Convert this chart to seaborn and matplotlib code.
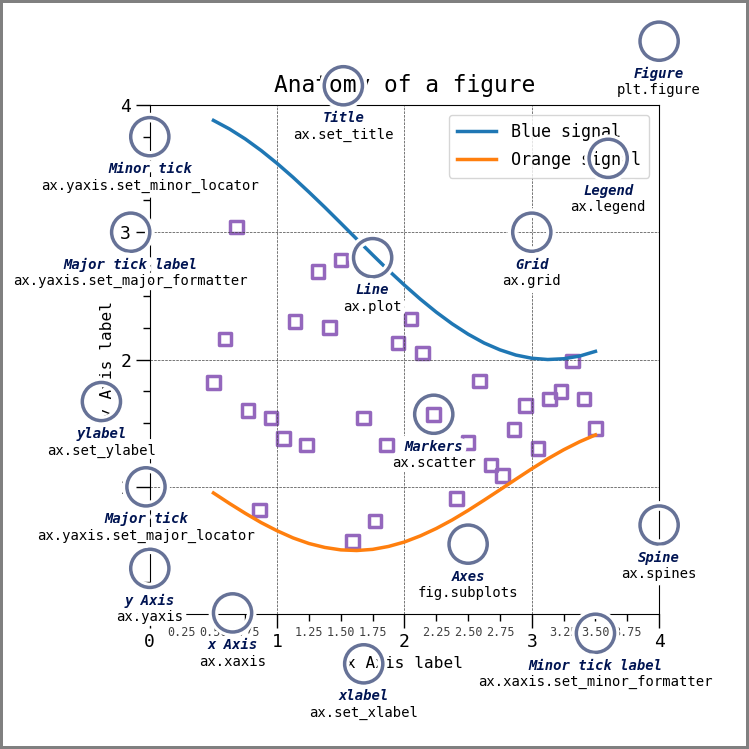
import matplotlib
matplotlib.use("Agg")
import matplotlib.pyplot as plt
import seaborn as sns
from matplotlib.ticker import AutoMinorLocator, MultipleLocator
from matplotlib.patches import Circle
from matplotlib.patheffects import withStroke

# ---- data ----
line_x = [0.5, 0.625, 0.75, 0.875, 1.0, 1.125, 1.25, 1.375, 1.5, 1.625, 1.75, 1.875, 2.0,
          2.125, 2.25, 2.375, 2.5, 2.625, 2.75, 2.875, 3.0, 3.125, 3.25, 3.375, 3.5]
blue_y = [3.878, 3.811, 3.732, 3.641, 3.540, 3.431, 3.315, 3.195, 3.071, 2.946, 2.822,
          2.700, 2.584, 2.474, 2.372, 2.280, 2.199, 2.130, 2.076, 2.035, 2.010, 2.000,
          2.006, 2.027, 2.064]
orange_y = [0.952, 0.870, 0.792, 0.719, 0.655, 0.599, 0.555, 0.524, 0.505, 0.500, 0.509,
            0.532, 0.567, 0.615, 0.673, 0.740, 0.815, 0.895, 0.977, 1.060, 1.142, 1.220,
            1.291, 1.354, 1.408]

marker_x = [0.50, 0.59, 0.68, 0.77, 0.86, 0.95, 1.05, 1.14, 1.23, 1.32, 1.41, 1.50,
            1.59, 1.68, 1.77, 1.86, 1.95, 2.05, 2.14, 2.23, 2.32, 2.41, 2.50, 2.59,
            2.68, 2.77, 2.86, 2.95, 3.05, 3.14, 3.23, 3.32, 3.41, 3.50]
marker_y = [1.82, 2.16, 3.04, 1.60, 0.82, 1.54, 1.38, 2.30, 1.33, 2.69, 2.25, 2.78,
            0.57, 1.54, 0.73, 1.33, 2.13, 2.32, 2.05, 1.57, 1.25, 0.91, 1.35, 1.83,
            1.17, 1.09, 1.45, 1.64, 1.30, 1.69, 1.75, 1.99, 1.69, 1.46]

series_labels = ["Blue signal", "Orange signal"]

# (label, code) for each annotated element
notes = [
    ("Minor tick label", "ax.xaxis.set_minor_formatter"),
    ("Major tick", "ax.yaxis.set_major_locator"),
    ("Minor tick", "ax.yaxis.set_minor_locator"),
    ("Major tick label", "ax.yaxis.set_major_formatter"),
    ("xlabel", "ax.set_xlabel"),
    ("ylabel", "ax.set_ylabel"),
    ("Title", "ax.set_title"),
    ("Line", "ax.plot"),
    ("Markers", "ax.scatter"),
    ("Grid", "ax.grid"),
    ("Legend", "ax.legend"),
    ("Axes", "fig.subplots"),
    ("Figure", "plt.figure"),
    ("x Axis", "ax.xaxis"),
    ("y Axis", "ax.yaxis"),
    ("Spine", "ax.spines"),
]
note_pos = [(3.50, -0.15), (-0.03, 1.00), (0.00, 3.75), (-0.15, 3.00), (1.68, -0.39),
            (-0.38, 1.67), (1.52, 4.15), (1.75, 2.80), (2.23, 1.57), (3.00, 3.00),
            (3.60, 3.58), (2.50, 0.55), (4.00, 4.50), (0.65, 0.01), (0.00, 0.36),
            (4.00, 0.70)]

# reference uses a narrow monospace face everywhere; DejaVu Sans Mono at ~0.83x size matches widths
plt.rcParams["font.family"] = ["DejaVu Sans Mono", "DejaVu Sans"]

royal_blue = [0, 20 / 256, 82 / 256]

fig = plt.figure(figsize=(7.49, 7.49), dpi=100)
ax = fig.add_axes([0.2, 0.17, 0.68, 0.7], aspect=1)

ax.xaxis.set_major_locator(MultipleLocator(1.0))
ax.xaxis.set_minor_locator(AutoMinorLocator(4))
ax.yaxis.set_major_locator(MultipleLocator(1.0))
ax.yaxis.set_minor_locator(AutoMinorLocator(4))
ax.xaxis.set_minor_formatter("{x:.2f}")

ax.set_xlim(0, 4)
ax.set_ylim(0, 4)

ax.tick_params(which="major", width=1.0, length=10, labelsize=13)
ax.tick_params(which="minor", width=1.0, length=5, labelsize=8.5, labelcolor="0.25")

ax.grid(linestyle="--", linewidth=0.5, color=".25", zorder=-10)

sns.lineplot(x=line_x, y=blue_y, color="C0", lw=2.5, label=series_labels[0], zorder=10, ax=ax)
sns.lineplot(x=line_x, y=orange_y, color="C1", lw=2.5, label=series_labels[1], ax=ax)
sns.scatterplot(x=marker_x, y=marker_y, marker="s", s=81, ax=ax)
pts = ax.collections[-1]
pts.set_facecolor("none")
pts.set_edgecolor("C4")
pts.set_linewidth(2.5)

ax.set_title("Anatomy of a figure", fontsize=16.5, verticalalignment="bottom")
ax.set_xlabel("x Axis label", fontsize=11.6)
ax.set_ylabel("y Axis label", fontsize=11.6)
# spacing scaled up so the box matches a 14pt legend
ax.legend(loc="upper right", fontsize=12, handlelength=2.3, handletextpad=0.9,
          labelspacing=0.6, borderpad=0.5, borderaxespad=0.6)


def annotate(x, y, text, code):
    c = Circle((x, y), radius=0.15, clip_on=False, zorder=10, linewidth=2.5,
               edgecolor=royal_blue + [0.6], facecolor="none",
               path_effects=[withStroke(linewidth=7, foreground="white")])
    ax.add_artist(c)
    # white outline first, then the coloured text on top
    for pe in [[withStroke(linewidth=7, foreground="white")], []]:
        color = "white" if pe else royal_blue
        ax.text(x, y - 0.2, text, zorder=100, ha="center", va="top", weight="bold",
                color=color, style="italic", fontfamily="monospace", fontsize=10,
                path_effects=pe)
        color = "white" if pe else "black"
        ax.text(x, y - 0.33, code, zorder=100, ha="center", va="top", weight="normal",
                color=color, fontfamily="monospace", fontsize=10, path_effects=pe)


for (lab, code), (px, py) in zip(notes, note_pos):
    annotate(px, py, lab, code)

fig.patch.set(linewidth=4, edgecolor="0.5")

fig.savefig("out.png", dpi=100)
